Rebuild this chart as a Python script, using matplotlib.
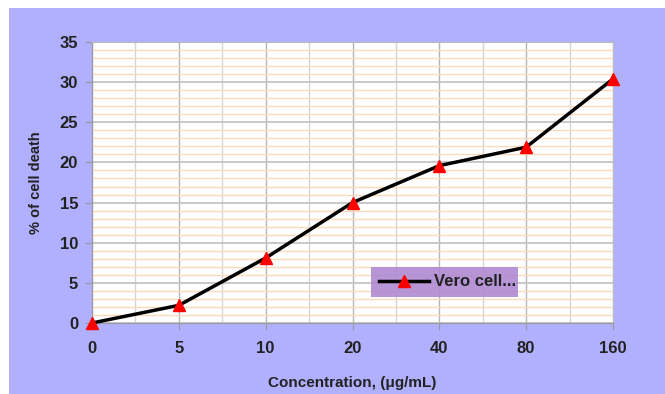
import matplotlib
matplotlib.use("Agg")
import matplotlib.pyplot as plt
from matplotlib.patches import Rectangle
from matplotlib.ticker import MultipleLocator

concentrations = ["0", "5", "10", "20", "40", "80", "160"]
cell_death = [0.0, 2.2, 8.1, 15.0, 19.6, 21.9, 30.4]
y_ticks = [0, 5, 10, 15, 20, 25, 30, 35]

plt.rcParams["font.family"] = ["Liberation Sans", "DejaVu Sans"]

fig = plt.figure(figsize=(6.65, 3.94), dpi=100)
fig.patch.set_facecolor("white")
fig.add_artist(Rectangle((9 / 665, 0), 1 - 9 / 665, 386 / 394,
                         transform=fig.transFigure, facecolor="#b0b0ff",
                         edgecolor="none", zorder=-10))

ax = fig.add_axes([92 / 665, 1 - 323 / 394, 521 / 665, 281 / 394])
ax.set_facecolor("white")

x = list(range(len(concentrations)))
ax.set_xlim(0, len(concentrations) - 1)
ax.set_ylim(0, 35)

# grid: orange minor lines every 1, gray major every 5
ax.yaxis.set_minor_locator(MultipleLocator(1))
ax.xaxis.set_minor_locator(MultipleLocator(0.5))
ax.grid(True, which="minor", axis="y", color="#fad9bd", linewidth=1.0)
ax.grid(True, which="major", axis="y", color="#c4c4c4", linewidth=1.3)
ax.grid(True, which="minor", axis="x", color="#d4d4d4", linewidth=1.0)
ax.grid(True, which="major", axis="x", color="#b4b4b4", linewidth=1.0)
ax.set_axisbelow(True)

ax.plot(x, cell_death, color="black", linewidth=2.5, marker="^",
        markersize=9, markerfacecolor="red", markeredgecolor="red",
        label="Vero cell...", clip_on=False, zorder=3)

ax.set_xticks(x)
ax.set_xticklabels(concentrations)
ax.set_yticks(y_ticks)
ax.tick_params(axis="both", which="major", labelsize=12, length=5,
               color="#999999", pad=5)
ax.tick_params(axis="x", which="major", pad=8)
ax.tick_params(axis="both", which="minor", length=0)
for lbl in ax.get_xticklabels() + ax.get_yticklabels():
    lbl.set_fontweight("bold")
    lbl.set_color("#222222")

for side in ("top", "right"):
    ax.spines[side].set_color("#bbbbbb")
for side in ("left", "bottom"):
    ax.spines[side].set_color("#999999")

ax.set_ylabel("% of cell death", fontsize=10.5, fontweight="bold", labelpad=12,
              color="#222222")
ax.set_xlabel("Concentration, (\u03bcg/mL)", fontsize=11, fontweight="bold",
              labelpad=14, color="#222222")

leg = ax.legend(loc="lower left", bbox_to_anchor=(279 / 521, 26 / 281, 147 / 521, 33 / 281),
                mode="expand", frameon=True, fancybox=False, fontsize=12,
                handlelength=3, handletextpad=0.3, borderaxespad=0, borderpad=0.45)
leg.get_frame().set_facecolor("#b08ad2")
leg.get_frame().set_alpha(0.9)
leg.get_frame().set_edgecolor("none")
for t in leg.get_texts():
    t.set_fontweight("bold")
    t.set_color("#222222")

fig.savefig("out.png", dpi=100)
